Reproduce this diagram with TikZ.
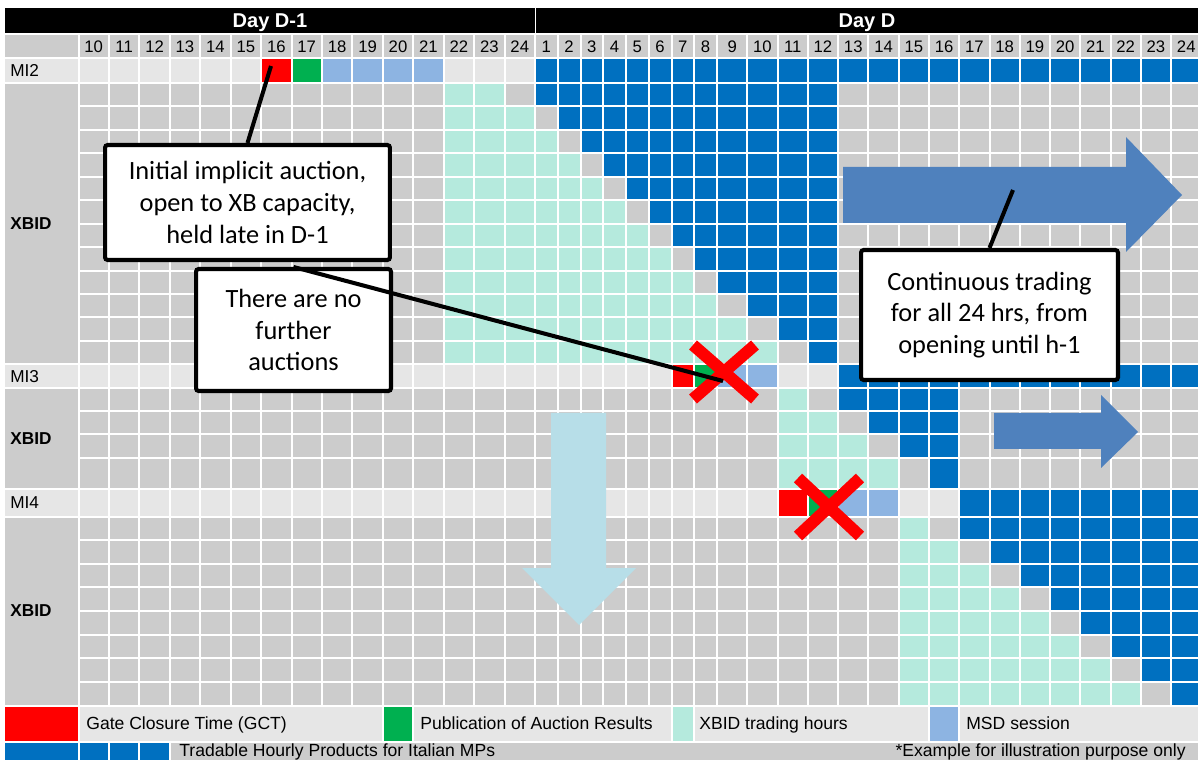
\documentclass[tikz,border=0pt]{standalone}
\usepackage{fontspec}
\setmainfont{Liberation Sans}
\newfontfamily\calibrifont{Carlito}

\definecolor{cellgrey}{HTML}{CCCCCC}
\definecolor{celllight}{HTML}{E6E6E6}
\definecolor{hourblue}{HTML}{0070C0}
\definecolor{xbidteal}{HTML}{B5EADD}
\definecolor{msdblue}{HTML}{8DB4E2}
\definecolor{gctred}{HTML}{FF0000}
\definecolor{pubgreen}{HTML}{00B050}
\definecolor{arrowblue}{HTML}{4F81BD}
\definecolor{downblue}{HTML}{B7DEE8}

% column edges and row edges, in pixels
\def\colx{{78.5,108.9,139.4,169.8,200.2,230.7,261.1,291.5,321.9,352.4,382.8,413.2,443.7,474.1,504.5,535,557.75,580.5,603.25,626,648.75,671.5,694.25,717,747.3,777.6,807.8,838.1,868.4,898.7,928.9,959.2,989.5,1019.7,1050,1080.3,1110.6,1140.8,1171.1,1201.4}}
\def\rowy{{34,58.5,83,106.45,129.9,153.35,176.8,200.25,223.7,247.15,270.6,294.05,317.5,340.95,364.4,388.5,411.5,434.5,458,489.5,516.5,540.1,563.7,587.3,610.9,634.5,658.1,681.7,705.5,741.5,790}}

% one block of cells: row, first column, last column, colour
\newcommand\spanfill[4]{%
  \pgfmathtruncatemacro\spanend{#3+1}%
  \pgfmathtruncatemacro\rowend{#1+1}%
  \pgfmathsetmacro\sxa{\colx[#2]+1}%
  \pgfmathsetmacro\sxb{\colx[\spanend]-1}%
  \pgfmathsetmacro\sya{\rowy[#1]+1}%
  \pgfmathsetmacro\syb{\rowy[\rowend]-1}%
  \fill[#4] (\sxa,\sya) rectangle (\sxb,\syb);}
% a run of single cells
\newcommand\cellrun[4]{\foreach \n in {#2,...,#3}{\spanfill{#1}{\n}{\n}{#4}}}
% label column: first row, last row, colour
\newcommand\labelfill[3]{%
  \pgfmathtruncatemacro\rowend{#2+1}%
  \pgfmathsetmacro\sya{\rowy[#1]+1}%
  \pgfmathsetmacro\syb{\rowy[\rowend]-1}%
  \fill[#3] (5,\sya) rectangle (77.5,\syb);}

\begin{document}
\begin{tikzpicture}[x=0.02cm, y=-0.02cm,
  rowlabel/.style={anchor=west, inner sep=0pt, font=\fontsize{9.8}{11}\selectfont},
  blocklabel/.style={anchor=west, inner sep=0pt, font=\bfseries\fontsize{9.8}{11}\selectfont},
  hourtext/.style={inner sep=0pt, font=\fontsize{9.5}{11}\selectfont},
  daytext/.style={anchor=base, inner sep=0pt, text=white, font=\bfseries\fontsize{11.4}{13}\selectfont},
  legendtext/.style={anchor=base west, inner sep=0pt, font=\fontsize{10}{12}\selectfont},
  notebox/.style={draw, fill=white, line width=2.3pt, rounded corners=1.5pt, align=center,
    inner sep=0pt, font=\calibrifont\fontsize{15}{18}\selectfont},
  noteline/.style={line width=2.3pt},
  crossmark/.style={gctred, line width=6.8pt}]
  \useasboundingbox (0,0) rectangle (1198,760);
  \clip (0,0) rectangle (1198,760);
  \fill[white] (0,0) rectangle (1198,760);

  % day header
  \fill[black] (5,8) rectangle (534.5,33);
  \fill[black] (535.5,8) rectangle (1200,33);
  \node[daytext] (dminus) at (270,27.5) {Day D-1};
  \node[daytext] (dday) at (867,27.5) {Day D};

  % hours
  \labelfill{0}{0}{cellgrey}
  \cellrun{0}{0}{38}{cellgrey}
  \foreach \n in {0,...,38}{
    \pgfmathtruncatemacro\m{\n+1}
    \pgfmathtruncatemacro\lab{\n<15 ? \n+10 : \n-14}
    \pgfmathsetmacro\xl{\colx[\n]}
    \pgfmathsetmacro\xr{\colx[\m]}
    \pgfmathsetmacro\hx{(\xl+\xr)/2}
    \node[hourtext] (hr\n) at (\hx,46.5) {\lab};
  }

  % MI2
  \labelfill{1}{1}{celllight}
  \cellrun{1}{0}{38}{celllight}
  \cellrun{1}{6}{6}{gctred}
  \cellrun{1}{7}{7}{pubgreen}
  \cellrun{1}{8}{11}{msdblue}
  \cellrun{1}{15}{38}{hourblue}
  \node[rowlabel] (mi2) at (10,70.75) {MI2};

  % XBID after MI2
  \labelfill{2}{13}{cellgrey}
  \foreach \i in {1,...,12}{
    \pgfmathtruncatemacro\r{\i+1}
    \pgfmathtruncatemacro\tealend{\i+12}
    \pgfmathtruncatemacro\bluestart{\i+14}
    \cellrun{\r}{0}{38}{cellgrey}
    \cellrun{\r}{12}{\tealend}{xbidteal}
    \cellrun{\r}{\bluestart}{26}{hourblue}
  }
  \node[blocklabel] (xbida) at (10,223.7) {XBID};

  % MI3
  \labelfill{14}{14}{celllight}
  \cellrun{14}{0}{38}{celllight}
  \cellrun{14}{21}{21}{gctred}
  \cellrun{14}{22}{22}{pubgreen}
  \cellrun{14}{23}{24}{msdblue}
  \cellrun{14}{27}{38}{hourblue}
  \node[rowlabel] (mi3) at (10,376.5) {MI3};

  % XBID after MI3
  \labelfill{15}{18}{cellgrey}
  \foreach \i in {1,...,4}{
    \pgfmathtruncatemacro\r{\i+14}
    \pgfmathtruncatemacro\tealend{\i+24}
    \pgfmathtruncatemacro\bluestart{\i+26}
    \cellrun{\r}{0}{38}{cellgrey}
    \cellrun{\r}{25}{\tealend}{xbidteal}
    \cellrun{\r}{\bluestart}{30}{hourblue}
  }
  \node[blocklabel] (xbidb) at (10,439) {XBID};

  % MI4
  \labelfill{19}{19}{celllight}
  \cellrun{19}{0}{38}{celllight}
  \cellrun{19}{25}{25}{gctred}
  \cellrun{19}{26}{26}{pubgreen}
  \cellrun{19}{27}{28}{msdblue}
  \cellrun{19}{31}{38}{hourblue}
  \node[rowlabel] (mi4) at (10,503) {MI4};

  % XBID after MI4
  \labelfill{20}{27}{cellgrey}
  \foreach \i in {1,...,8}{
    \pgfmathtruncatemacro\r{\i+19}
    \pgfmathtruncatemacro\tealend{\i+28}
    \pgfmathtruncatemacro\bluestart{\i+30}
    \cellrun{\r}{0}{38}{cellgrey}
    \cellrun{\r}{29}{\tealend}{xbidteal}
    \cellrun{\r}{\bluestart}{38}{hourblue}
  }
  \node[blocklabel] (xbidc) at (10,611) {XBID};

  % legend
  \labelfill{28}{28}{gctred}
  \spanfill{28}{0}{9}{celllight}
  \spanfill{28}{10}{10}{pubgreen}
  \spanfill{28}{11}{20}{celllight}
  \spanfill{28}{21}{21}{xbidteal}
  \spanfill{28}{22}{29}{celllight}
  \spanfill{28}{30}{30}{msdblue}
  \spanfill{28}{31}{38}{celllight}
  \labelfill{29}{29}{hourblue}
  \cellrun{29}{0}{2}{hourblue}
  \spanfill{29}{3}{38}{cellgrey}
  \node[legendtext] (leggct) at (86,729.5) {Gate Closure Time (GCT)};
  \node[legendtext] (legpub) at (420,729.5) {Publication of Auction Results};
  \node[legendtext] (legxbid) at (699,729.5) {XBID trading hours};
  \node[legendtext] (legmsd) at (966,729.5) {MSD session};
  \node[legendtext] (legtrade) at (179,756.5) {Tradable Hourly Products for Italian MPs};
  \node[legendtext, anchor=base east] (legnote) at (1186,756.5) {*Example for illustration purpose only};

  % arrows
  \fill[arrowblue] (843,167) -- (1126,167) -- (1126,137) -- (1182,195) -- (1126,252)
    -- (1126,223) -- (843,223) -- cycle;
  \fill[arrowblue] (994,413) -- (1101,413) -- (1101,395) -- (1138,432) -- (1101,468)
    -- (1101,449) -- (994,449) -- cycle;
  \fill[downblue] (551,413) -- (606,413) -- (606,568) -- (636,568) -- (579,625)
    -- (522,568) -- (551,568) -- cycle;

  % crossed out auctions
  \coordinate (cross3) at (724,372);
  \coordinate (cross4) at (829,507);
  \draw[crossmark] (cross3) ++(-31,-27) -- ++(62,54);
  \draw[crossmark] (cross3) ++(31,-27) -- ++(-62,54);
  \draw[crossmark] (cross4) ++(-31,-29) -- ++(62,58);
  \draw[crossmark] (cross4) ++(31,-29) -- ++(-62,58);

  % notes
  \coordinate (gct2) at (271,66);
  \coordinate (mi3end) at (723,381);
  \coordinate (arrowpt) at (1013,190);
  \node[notebox, minimum width=5.7cm, minimum height=2.3cm] (initauc) at (247.5,202.5)
    {Initial implicit auction,\\open to XB capacity,\\held late in D-1};
  \node[notebox, minimum width=3.9cm, minimum height=2.44cm] (noauc) at (293.5,330)
    {There are no\\further\\auctions};
  \node[notebox, minimum width=5.14cm, minimum height=2.6cm] (conttrade) at (989.5,315)
    {Continuous trading\\for all 24 hrs, from\\opening until h-1};
  \draw[noteline] (initauc.north) -- (gct2);
  \draw[noteline] (noauc.north) -- (mi3end);
  \draw[noteline] (conttrade.north) -- (arrowpt);
\end{tikzpicture}
\end{document}
